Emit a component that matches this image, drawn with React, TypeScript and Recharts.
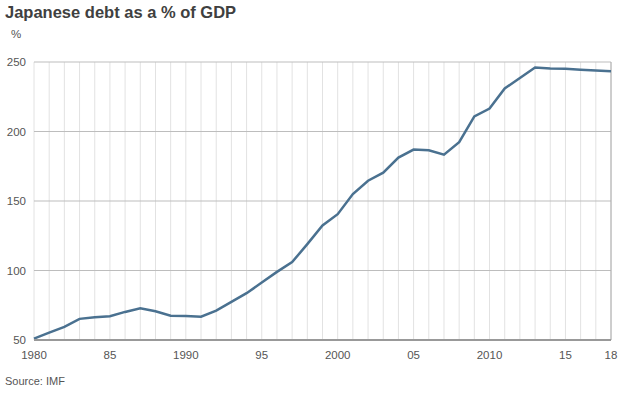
import {
  LineChart,
  Line,
  XAxis,
  YAxis,
  CartesianGrid,
  ReferenceLine,
} from 'recharts';

const years = [
  1980, 1981, 1982, 1983, 1984, 1985, 1986, 1987, 1988, 1989,
  1990, 1991, 1992, 1993, 1994, 1995, 1996, 1997, 1998, 1999,
  2000, 2001, 2002, 2003, 2004, 2005, 2006, 2007, 2008, 2009,
  2010, 2011, 2012, 2013, 2014, 2015, 2016, 2017, 2018,
];

const debt = [
  51, 55.3, 59.4, 65.2, 66.4, 67.1, 70.2, 72.9, 70.7, 67.5,
  67.3, 66.8, 71.1, 77.4, 83.7, 91.3, 99, 106, 119, 132.4,
  140.5, 155, 164.6, 170.4, 181.2, 187, 186.5, 183.3, 192.3, 210.8,
  216.5, 231, 238.5, 246, 245.4, 245.2, 244.5, 243.8, 243.3,
];

const xTicks = [1980, 1985, 1990, 1995, 2000, 2005, 2010, 2015, 2018];
const xTickLabels = ['1980', '85', '1990', '95', '2000', '05', '2010', '15', '18'];
const yTicks = [50, 100, 150, 200, 250];

const data = years.map((year, i) => ({ year, debt: debt[i] }));

const font = '"Liberation Sans", Arial, Helvetica, sans-serif';
const tickStyle = { fill: '#555', fontSize: 11.5, fontFamily: font };

const App = () => {
  return (
    <div
      style={{
        position: 'absolute',
        left: 0,
        top: 0,
        width: 624,
        height: 394,
        background: '#fff',
        fontFamily: font,
      }}
    >
      <div
        style={{
          position: 'absolute',
          left: 5,
          top: 3,
          fontSize: 16.5,
          fontWeight: 'bold',
          color: '#404040',
        }}
      >
        Japanese debt as a % of GDP
      </div>
      <div style={{ position: 'absolute', left: 11, top: 28, fontSize: 11.5, color: '#555' }}>%</div>
      <div style={{ position: 'absolute', left: 5, top: 375, fontSize: 11, color: '#555' }}>
        Source: IMF
      </div>
      <LineChart
        width={624}
        height={394}
        data={data}
        margin={{ top: 62, right: 13, bottom: 24, left: 0 }}
      >
        <CartesianGrid horizontal={false} verticalValues={years} stroke='#e2e2e2' />
        <CartesianGrid vertical={false} horizontalValues={yTicks} stroke='#bdbdbd' />
        <XAxis
          dataKey='year'
          type='number'
          domain={[1980, 2018]}
          ticks={xTicks}
          tickFormatter={(v: number) => xTickLabels[xTicks.indexOf(v)]}
          tick={tickStyle}
          tickLine={false}
          tickSize={0}
          tickMargin={11}
          height={30}
          axisLine={{ stroke: '#999', strokeWidth: 2 }}
          interval={0}
        />
        <YAxis
          width={34}
          domain={[50, 250]}
          ticks={yTicks}
          tick={tickStyle}
          tickLine={false}
          tickSize={0}
          tickMargin={8}
          axisLine={false}
          interval={0}
        />
        <ReferenceLine x={2018} stroke='#aaa' />
        <Line
          type='linear'
          dataKey='debt'
          stroke='#4a7190'
          strokeWidth={2.5}
          dot={false}
          isAnimationActive={false}
        />
      </LineChart>
    </div>
  );
};

export default App;
